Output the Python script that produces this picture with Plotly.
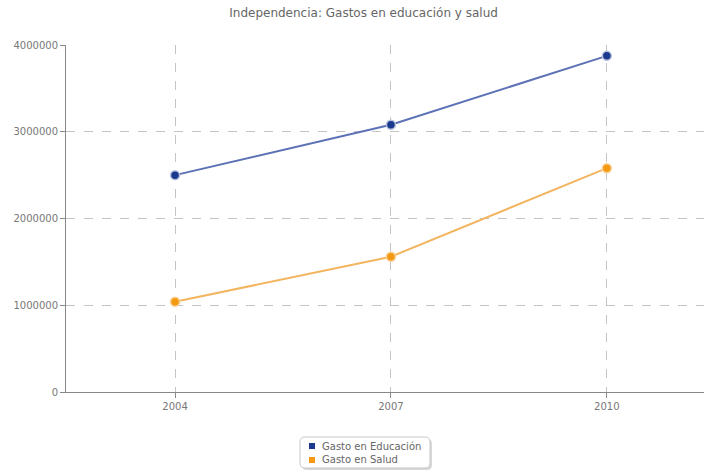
import plotly.graph_objects as go

years = ["2004", "2007", "2010"]
educacion = [2500000, 3080000, 3875000]
salud = [1040000, 1560000, 2580000]
y_ticks = [0, 1000000, 2000000, 3000000, 4000000]
series_names = ["Gasto en Educación", "Gasto en Salud"]
series_colors = ["#1b3a8e", "#f39a12"]

W, H = 706, 472
ML, MR, MT, MB = 66, 2, 45, 80
PW, PH = W - ML - MR, H - MT - MB


def px(xp):
    return (xp - ML) / PW


def py(yp):
    return (H - MB - yp) / PH


fig = go.Figure()
fig.add_trace(go.Scatter(
    x=years, y=educacion, name=series_names[0], mode="lines+markers",
    line=dict(color="#5d72b6", width=2), showlegend=False,
    marker=dict(color=series_colors[0], size=9, line=dict(color="#b7c0dc", width=1.5)),
))
fig.add_trace(go.Scatter(
    x=years, y=salud, name=series_names[1], mode="lines+markers",
    line=dict(color="#f3b560", width=2), showlegend=False,
    marker=dict(color=series_colors[1], size=9, line=dict(color="#f8d29c", width=1.5)),
))


def rounded(x0, y0, x1, y1, r=5):
    # path in paper coordinates with rounded corners (pixel-based radius)
    ax0, ax1 = px(x0), px(x1)
    ay0, ay1 = py(y0), py(y1)  # ay0 top (larger), ay1 bottom
    rx, ry = r / PW, r / PH
    return (f"M {ax0+rx},{ay0} L {ax1-rx},{ay0} Q {ax1},{ay0} {ax1},{ay0-ry} "
            f"L {ax1},{ay1+ry} Q {ax1},{ay1} {ax1-rx},{ay1} "
            f"L {ax0+rx},{ay1} Q {ax0},{ay1} {ax0},{ay1+ry} "
            f"L {ax0},{ay0-ry} Q {ax0},{ay0} {ax0+rx},{ay0} Z")


shapes = [
    dict(type="path", xref="paper", yref="paper", path=rounded(302, 439, 432, 470),
         fillcolor="#d8d8d8", line=dict(width=0), layer="above"),
    dict(type="path", xref="paper", yref="paper", path=rounded(300, 437, 430, 468),
         fillcolor="white", line=dict(color="#c8c8c8", width=1), layer="above"),
]
annotations = []
for i, (name, col) in enumerate(zip(series_names, series_colors)):
    cy = 446 + 14 * i
    shapes.append(dict(type="rect", xref="paper", yref="paper",
                       x0=px(309), x1=px(315), y0=py(cy - 3), y1=py(cy + 3),
                       fillcolor=col, line=dict(width=0), layer="above"))
    annotations.append(dict(text=name, xref="paper", yref="paper", x=px(320), y=py(cy),
                            xanchor="left", yanchor="middle", showarrow=False,
                            font=dict(family="DejaVu Sans", size=10, color="#666")))

fig.update_layout(
    width=W, height=H,
    margin=dict(l=ML, r=MR, t=MT, b=MB, autoexpand=False),
    paper_bgcolor="white", plot_bgcolor="white",
    font=dict(family="DejaVu Sans", size=10, color="#777"),
    title=dict(text="Independencia: Gastos en educación y salud", x=0.515, xanchor="center",
               y=0.972, yanchor="middle", font=dict(size=12, color="#666")),
    showlegend=False,
    shapes=shapes,
    annotations=annotations,
    xaxis=dict(type="category", range=[-0.505, 2.45], showline=True, linecolor="#888",
               linewidth=1, ticks="outside", ticklen=5, tickcolor="#888",
               showgrid=True, gridcolor="#c4c4c4", griddash="dash", gridwidth=1,
               zeroline=False, tickfont=dict(size=10, color="#777")),
    yaxis=dict(range=[0, 4000000], tickvals=y_ticks, tickformat="d", showline=True,
               linecolor="#888", linewidth=1, ticks="outside", ticklen=5, tickcolor="#888",
               showgrid=True, gridcolor="#c4c4c4", griddash="dash", gridwidth=1,
               zeroline=False, tickfont=dict(size=10, color="#777")),
)

fig.write_html("out.html", config={"displayModeBar": False},
               post_script="document.body.style.margin='0';document.body.style.overflow='hidden';")
